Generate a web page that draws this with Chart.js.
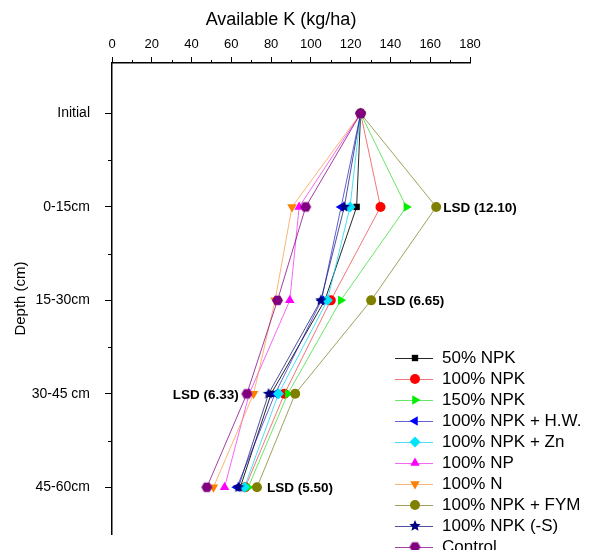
<!DOCTYPE html>
<html>
<head>
<meta charset="utf-8">
<script src="https://cdn.jsdelivr.net/npm/chart.js@4/dist/chart.umd.min.js"></script>
<style>
  html, body { margin: 0; padding: 0; background: #fff; }
  #wrap { width: 598px; height: 550px; }
</style>
</head>
<body>
<div id="wrap"><canvas id="chart" width="598" height="550"></canvas></div>
<script>
// depth rows (top to bottom)
var depths = ["Initial", "0-15cm", "15-30cm", "30-45 cm", "45-60cm"];
var lsdLabels = ["", "LSD (12.10)", "LSD (6.65)", "LSD (6.33)", "LSD (5.50)"];
var lsdSide = ["", "right", "right", "left", "right"];

// available K (kg/ha) for each treatment, one value per depth row
var npk50   = [125, 123.0, 107.0, 80.0, 64.5];
var npk100  = [125, 135.0, 110.0, 86.7, 67.0];
var npk150  = [125, 148.0, 115.0, 88.4, 68.5];
var npkHW   = [125, 115.2, 105.3, 82.0, 62.8];
var npkZn   = [125, 119.7, 108.3, 83.7, 66.6];
var np100   = [125, 94.1, 89.4, 69.0, 56.6];
var n100    = [125, 90.5, 82.0, 71.2, 51.0];
var npkFYM  = [125, 163.0, 130.3, 92.1, 72.9];
var npkNoS  = [125, 116.8, 105.0, 78.7, 63.6];
var control = [125, 97.4, 83.2, 67.8, 47.7];

var FONT = "Arial, 'Liberation Sans', sans-serif";

// small filled marker canvases for shapes chart.js does not fill
var shapeCanvas = (color, kind, r) => {
  var c = document.createElement("canvas");
  var s = r * 2 + 2;
  c.width = s; c.height = s;
  var g = c.getContext("2d");
  g.fillStyle = color;
  g.beginPath();
  var cx = s / 2, cy = s / 2;
  if (kind == "star") {
    for (var i = 0; i < 10; i++) {
      var rr = i % 2 == 0 ? r : r * 0.45;
      var a = -Math.PI / 2 + i * Math.PI / 5;
      g.lineTo(cx + rr * Math.cos(a), cy + rr * Math.sin(a));
    }
  } else {
    for (var i = 0; i < 6; i++) {
      var a = i * Math.PI / 3;
      g.lineTo(cx + r * Math.cos(a), cy + r * Math.sin(a));
    }
  }
  g.closePath();
  g.fill();
  return c;
};

var series = [
  {label: "50% NPK", values: npk50, color: "#000000", line: "rgba(0,0,0,0.85)", style: "rect", rot: 0, r: 4.5},
  {label: "100% NPK", values: npk100, color: "#ff0000", line: "rgba(235,60,60,0.7)", style: "circle", rot: 0, r: 5},
  {label: "150% NPK", values: npk150, color: "#00ee00", line: "rgba(40,220,40,0.7)", style: "triangle", rot: 90, r: 5.5},
  {label: "100% NPK + H.W.", values: npkHW, color: "#0000ff", line: "rgba(30,30,200,0.7)", style: "triangle", rot: -90, r: 5.5},
  {label: "100% NPK + Zn", values: npkZn, color: "#00e5ff", line: "rgba(0,210,240,0.7)", style: "rectRot", rot: 0, r: 5.5},
  {label: "100% NP", values: np100, color: "#ff00ff", line: "rgba(240,40,240,0.7)", style: "triangle", rot: 0, r: 5.5},
  {label: "100% N", values: n100, color: "#ff8000", line: "rgba(250,150,60,0.7)", style: "triangle", rot: 180, r: 5.5},
  {label: "100% NPK + FYM", values: npkFYM, color: "#808000", line: "rgba(128,128,40,0.75)", style: "circle", rot: 0, r: 5},
  {label: "100% NPK (-S)", values: npkNoS, color: "#000080", line: "rgba(20,20,120,0.75)", style: shapeCanvas("#000080", "star", 6), rot: 0, r: 6},
  {label: "Control", values: control, color: "#800080", line: "rgba(128,0,128,0.75)", style: shapeCanvas("#800080", "hex", 5.5), rot: 0, r: 5.5}
];

// later series sit on top, like the original plot
var datasets = series.map((s, idx) => {
  return {
    label: s.label,
    order: series.length - idx,
    data: s.values.map((v, i) => ({x: v, y: i})),
    showLine: true,
    borderColor: s.line,
    borderWidth: 1,
    backgroundColor: s.color,
    pointBackgroundColor: s.color,
    pointBorderColor: s.color,
    pointBorderWidth: 0,
    pointStyle: s.style,
    pointRotation: s.rot,
    pointRadius: s.r,
    pointHoverRadius: s.r
  };
});

// minor ticks, x title, LSD notes and the line+marker legend
var extras = {
  id: "extras",
  afterDraw: (chart) => {
    var ctx = chart.ctx;
    var xs = chart.scales.x, ys = chart.scales.y;
    ctx.save();
    ctx.strokeStyle = "#000";
    ctx.lineWidth = 1;
    ctx.beginPath();
    for (var v = 10; v < 180; v += 20) {
      var px = Math.round(xs.getPixelForValue(v)) + 0.5;
      ctx.moveTo(px, xs.bottom);
      ctx.lineTo(px, xs.bottom - 3);
    }
    for (var k = 0.5; k < depths.length - 1; k += 1) {
      var py = Math.round(ys.getPixelForValue(k)) + 0.5;
      ctx.moveTo(ys.right, py);
      ctx.lineTo(ys.right - 4, py);
    }
    ctx.stroke();

    ctx.fillStyle = "#000";
    ctx.font = "18px " + FONT;
    ctx.textAlign = "center";
    ctx.textBaseline = "middle";
    ctx.fillText("Available K (kg/ha)", 281, 20);

    ctx.font = "bold 13.5px " + FONT;
    for (var i = 1; i < depths.length; i++) {
      var row = series.map((s) => s.values[i]);
      var py = ys.getPixelForValue(i);
      if (lsdSide[i] == "right") {
        ctx.textAlign = "left";
        ctx.fillText(lsdLabels[i], xs.getPixelForValue(Math.max.apply(null, row)) + (i == 4 ? 10 : 7), py + 1);
      } else {
        ctx.textAlign = "right";
        ctx.fillText(lsdLabels[i], xs.getPixelForValue(Math.min.apply(null, row)) - 8, py + 1);
      }
    }

    var lx = 395, ly = 358, step = 21;
    ctx.font = "17px " + FONT;
    ctx.textAlign = "left";
    for (var j = 0; j < series.length; j++) {
      var s = series[j];
      var y = ly + j * step;
      ctx.strokeStyle = s.line;
      ctx.beginPath();
      ctx.moveTo(lx, y + 0.5);
      ctx.lineTo(lx + 38, y + 0.5);
      ctx.stroke();
      ctx.fillStyle = s.color;
      ctx.strokeStyle = s.color;
      Chart.helpers.drawPoint(ctx, {pointStyle: s.style, rotation: s.rot, radius: s.r, borderWidth: 0}, lx + 20, y);
      ctx.fillStyle = "#000";
      ctx.fillText(s.label, lx + 47, y);
    }
    ctx.restore();
  }
};

var chart = new Chart(document.getElementById("chart"), {
  type: "scatter",
  data: {datasets: datasets},
  options: {
    responsive: false,
    animation: false,
    layout: {padding: {left: 0, right: 128, top: 0, bottom: 16}},
    plugins: {legend: {display: false}, tooltip: {enabled: false}},
    scales: {
      x: {
        position: "top",
        min: 0,
        max: 180,
        afterFit: (scale) => { scale.height = 63; scale.paddingLeft = 0; scale.paddingRight = 0; },
        ticks: {
          stepSize: 20,
          color: "#000",
          font: {family: FONT, size: 13},
          padding: 5
        },
        grid: {drawOnChartArea: false, tickLength: 6, tickColor: "#000"},
        border: {color: "#000", width: 1.5}
      },
      y: {
        reverse: true,
        min: -0.54,
        max: 4.5,
        afterFit: (scale) => { scale.width = 112; scale.paddingTop = 0; scale.paddingBottom = 0; },
        afterBuildTicks: (scale) => {
          scale.ticks = depths.map((d, i) => ({value: i}));
        },
        ticks: {
          color: "#000",
          font: {family: FONT, size: 14},
          padding: 15,
          callback: (v) => depths[v]
        },
        grid: {drawOnChartArea: false, tickLength: 7, tickColor: "#000"},
        border: {color: "#000", width: 1.5},
        title: {display: true, text: "Depth (cm)", color: "#000", font: {family: FONT, size: 15}, padding: {top: 12, bottom: 0}}
      }
    }
  },
  plugins: [extras]
});
</script>
</body>
</html>
